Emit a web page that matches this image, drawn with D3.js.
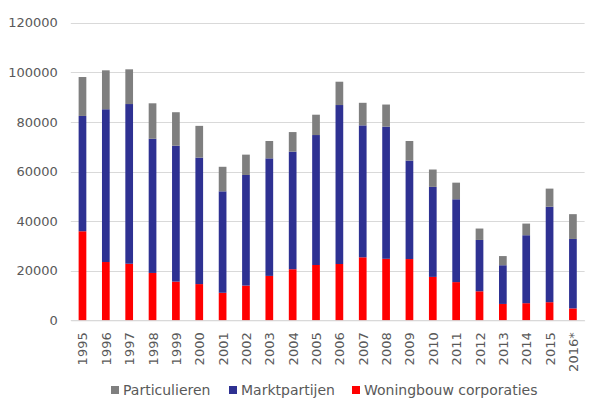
<!DOCTYPE html>
<html>
<head>
<meta charset="utf-8">
<script src="https://cdn.jsdelivr.net/npm/d3@7"></script>
<style>
  html, body { margin: 0; padding: 0; background: #fff; }
  svg { display: block; }
  text { font-family: "DejaVu Sans", sans-serif; fill: #595959; }
</style>
</head>
<body>
<svg id="chart" width="602" height="411"></svg>
<script>
const years = ["1995","1996","1997","1998","1999","2000","2001","2002","2003","2004","2005","2006","2007","2008","2009","2010","2011","2012","2013","2014","2015","2016*"];
const woningbouw = [35900,23500,22800,19100,15600,14600,11100,14000,17900,20600,22300,22700,25400,24800,24700,17500,15400,11700,6600,6900,7300,4800];
const marktpartijen = [46500,61600,64400,54100,54800,51000,40900,44600,47400,47400,52400,64100,53200,53300,39700,36300,33400,20700,15600,27400,38500,28000];
const particulieren = [15700,15700,14000,14300,13500,12800,9900,8200,7000,7900,8200,9400,9100,8900,7900,7000,6700,4600,3700,4700,7300,10000];
const yTicks = [0,20000,40000,60000,80000,100000,120000];
const colors = {"Woningbouw corporaties":"#ff0000","Marktpartijen":"#2e3192","Particulieren":"#7f7f7f"};

const svg = d3.select("#chart");
const plotLeft = 70.8, plotRight = 584.6, plotBottom = 320.3, plotTop = 22.7;
const x = d3.scaleBand().domain(years).range([plotLeft, plotRight]).paddingInner(0.67).paddingOuter(0.335);
const y = d3.scaleLinear().domain([0,120000]).range([plotBottom, plotTop]);

// gridlines
svg.append("g").selectAll("line").data(yTicks).join("line")
  .attr("x1", plotLeft).attr("x2", plotRight)
  .attr("y1", d => Math.round(y(d))+0.5).attr("y2", d => Math.round(y(d))+0.5)
  .attr("stroke", "#d9d9d9").attr("stroke-width", 1);

// y axis labels
const yAxis = d3.axisLeft(y).tickValues(yTicks).tickSize(0).tickPadding(13).tickFormat(d3.format("d"));
const gy = svg.append("g").attr("transform", `translate(${plotLeft},0)`).call(yAxis);
gy.select(".domain").remove();
gy.selectAll("text").attr("font-size", 13).attr("font-family", "DejaVu Sans").attr("fill", "#606060");

// stacked data
const table = years.map((yr,i) => ({year: yr, "Woningbouw corporaties": woningbouw[i], "Marktpartijen": marktpartijen[i], "Particulieren": particulieren[i]}));
const stack = d3.stack().keys(["Woningbouw corporaties","Marktpartijen","Particulieren"]);
const layers = stack(table);

svg.append("g").selectAll("g").data(layers).join("g")
  .attr("fill", d => colors[d.key])
  .selectAll("rect").data(d => d).join("rect")
  .attr("x", d => x(d.data.year))
  .attr("width", x.bandwidth())
  .attr("y", d => y(d[1]))
  .attr("height", d => y(d[0]) - y(d[1]));

// x axis labels
const xAxis = d3.axisBottom(x).tickSize(0).tickPadding(0);
const gx = svg.append("g").attr("transform", `translate(0,${plotBottom})`).call(xAxis);
gx.select(".domain").attr("stroke", "#d9d9d9");
gx.selectAll("text")
  .attr("font-size", 13).attr("font-family", "DejaVu Sans").attr("fill", "#606060")
  .attr("text-anchor", "end")
  .attr("dy", null)
  .attr("transform", "translate(5,12) rotate(-90)");

// legend
const legendItems = [
  {name: "Particulieren", x: 111},
  {name: "Marktpartijen", x: 229},
  {name: "Woningbouw corporaties", x: 352}
];
const lg = svg.append("g");
legendItems.forEach(it => {
  lg.append("rect").attr("x", it.x).attr("y", 386).attr("width", 8).attr("height", 8).attr("fill", colors[it.name]);
  lg.append("text").attr("x", it.x + 12).attr("y", 395).attr("font-size", 14).attr("fill", "#606060").text(it.name);
});
</script>
</body>
</html>
